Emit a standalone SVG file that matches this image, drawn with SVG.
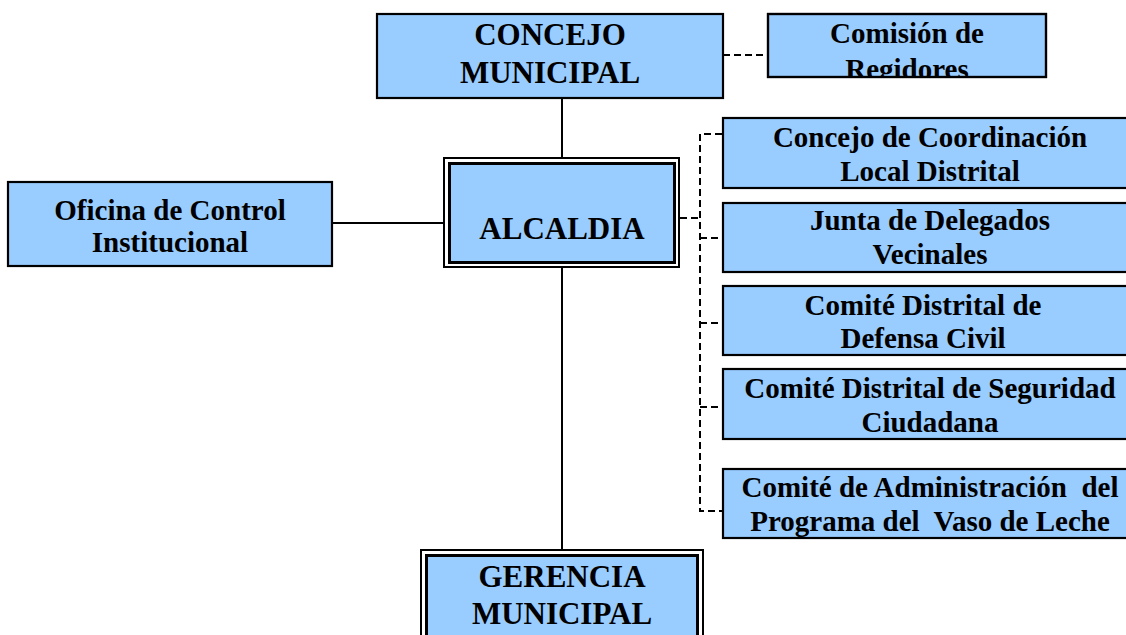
<svg xmlns="http://www.w3.org/2000/svg" width="1126" height="635" viewBox="0 0 1126 635">
<style>
.box{fill:#99CCFF;stroke:#000;stroke-width:2.2}
.outer{fill:#fff;stroke:#000;stroke-width:2}
.inner{fill:#99CCFF;stroke:#000;stroke-width:3}
.big{font-family:"Liberation Serif","Times New Roman",serif;font-weight:bold;font-size:31px;fill:#000;text-anchor:middle}
.sm{font-family:"Liberation Serif","Times New Roman",serif;font-weight:bold;font-size:29px;fill:#000;text-anchor:middle}
.solid{stroke:#000;stroke-width:2;fill:none}
.dash{stroke:#000;stroke-width:2;fill:none;stroke-dasharray:7 4}
</style>
<defs>
<clipPath id="clipCom"><rect x="769" y="15" width="276" height="61"/></clipPath>
</defs>
<rect width="1126" height="635" fill="#fff"/>
<g id="connectors">
<line class="solid" x1="562" y1="98" x2="562" y2="157"/>
<line class="solid" x1="562" y1="268" x2="562" y2="549"/>
<line class="solid" x1="332" y1="223" x2="443" y2="223"/>
<line class="dash" x1="723" y1="55" x2="768" y2="55"/>
<line class="dash" x1="680" y1="218" x2="700" y2="218"/>
<polyline class="dash" points="722,134 700,134 700,511 722,511"/>
<line class="dash" x1="700" y1="238" x2="722" y2="238"/>
<line class="dash" x1="700" y1="323" x2="722" y2="323"/>
<line class="dash" x1="700" y1="407" x2="722" y2="407"/>
</g>
<g id="concejo">
<rect class="box" x="377" y="14" width="346" height="84"/>
<text class="big" x="550" y="45">CONCEJO</text>
<text class="big" x="550" y="83">MUNICIPAL</text>
</g>
<g id="comision">
<rect class="box" x="768" y="14" width="278" height="63"/>
<g clip-path="url(#clipCom)">
<text class="sm" x="907" y="43">Comisión de</text>
<text class="sm" x="907" y="79">Regidores</text>
</g>
<rect x="768" y="14" width="278" height="63" fill="none" stroke="#000" stroke-width="2.2"/>
</g>
<g id="oficina">
<rect class="box" x="8" y="182" width="324" height="84"/>
<text class="sm" x="170" y="220">Oficina de Control</text>
<text class="sm" x="170" y="252">Institucional</text>
</g>
<g id="alcaldia">
<rect class="outer" x="444" y="158" width="235" height="109"/>
<rect class="inner" x="449.5" y="163.5" width="225" height="99"/>
<text class="big" x="562" y="239">ALCALDIA</text>
</g>
<g id="coordinacion">
<rect class="box" x="723" y="118" width="410" height="70"/>
<text class="sm" x="930" y="147">Concejo de Coordinación</text>
<text class="sm" x="930" y="181">Local Distrital</text>
</g>
<g id="junta">
<rect class="box" x="723" y="203" width="410" height="69"/>
<text class="sm" x="930" y="230">Junta de Delegados</text>
<text class="sm" x="930" y="264">Vecinales</text>
</g>
<g id="defensa">
<rect class="box" x="723" y="286" width="410" height="69"/>
<text class="sm" x="923" y="315">Comité Distrital de</text>
<text class="sm" x="923" y="348">Defensa Civil</text>
</g>
<g id="seguridad">
<rect class="box" x="723" y="369" width="410" height="70"/>
<text class="sm" x="930" y="398">Comité Distrital de Seguridad</text>
<text class="sm" x="930" y="432">Ciudadana</text>
</g>
<g id="vaso">
<rect class="box" x="723" y="469" width="410" height="69"/>
<text class="sm" x="930" y="497" xml:space="preserve">Comité de Administración  del</text>
<text class="sm" x="930" y="531" xml:space="preserve">Programa del  Vaso de Leche</text>
</g>
<g id="gerencia">
<rect class="outer" x="421" y="550" width="282" height="100"/>
<rect class="inner" x="426.5" y="555.5" width="271" height="100"/>
<text class="big" x="562" y="587">GERENCIA</text>
<text class="big" x="562" y="624">MUNICIPAL</text>
</g>
</svg>
